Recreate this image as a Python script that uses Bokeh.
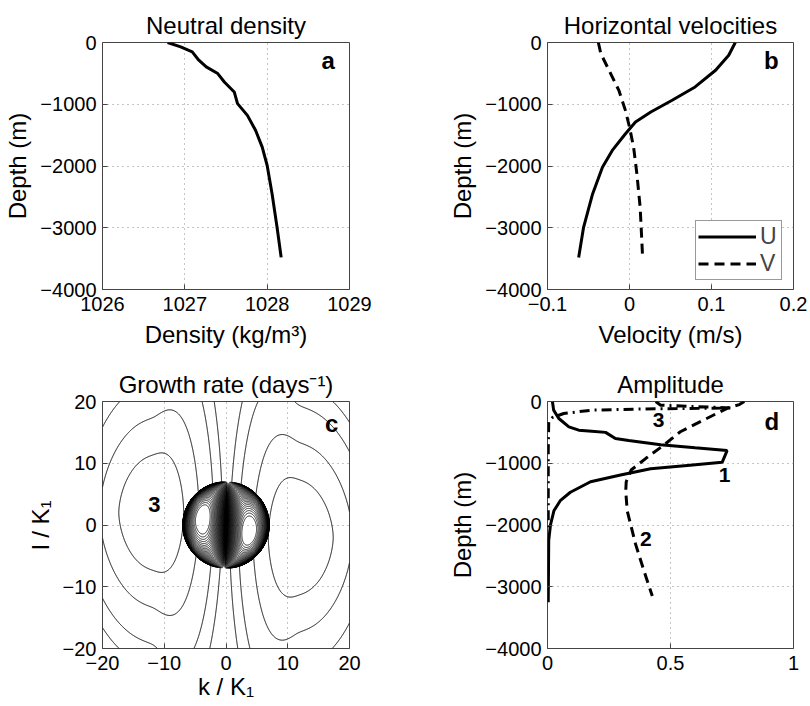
import numpy as np
import contourpy
from bokeh.plotting import figure
from bokeh.layouts import column, row
from bokeh.models import FixedTicker, Legend, LegendItem, Label
from bokeh.embed import file_html
from bokeh.resources import INLINE

FONT = "Liberation Sans"

# ---------------- data ----------------
# (a) neutral density profile
density = [1026.79, 1026.95, 1027.09, 1027.17, 1027.26, 1027.40, 1027.48, 1027.60,
           1027.64, 1027.76, 1027.86, 1027.94, 1028.00, 1028.06, 1028.12, 1028.17]
density_depth = [0, -70, -152, -287, -395, -503, -639, -801, -990, -1180, -1424,
                 -1694, -1992, -2452, -2993, -3480]

# (b) horizontal velocities
u_vel = [0.129, 0.121, 0.105, 0.080, 0.052, 0.026, 0.0073, -0.0049, -0.021, -0.033,
         -0.045, -0.056, -0.062]
u_depth = [0, -206, -449, -720, -936, -1126, -1288, -1478, -1748, -2019, -2452, -2993, -3480]
v_vel = [-0.038, -0.035, -0.025, -0.013, -0.005, 0.0, 0.005, 0.009, 0.013, 0.016]
v_depth = [0, -179, -449, -774, -1099, -1370, -1694, -2127, -2668, -3480]

# (c) growth-rate map parameters
k_limits = [-20, 20]
l_limits = [-20, 20]
disc_radius = 7.0          # radius of the densely contoured disc
gap_tilt = 0.045           # k-offset of the gap between the two halves per unit l
peak_shift = 0.02          # vertical shift of the two inner maxima
inner_rim_power = 0.4
inner_gap_power = 0.8
inner_gap_damping = 0.86
inner_levels = list(np.linspace(0.04, 0.93, 32))
# outer lobe (left one; the right one is its point reflection):
# [k centre, l centre, k scale outward, k scale inward, l scale, l exponent, widening]
outer_lobe = [-11.5, 2.0, 5.8, 4.6, 9.0, 1.72, 0.35]
outer_levels = [0.06, 0.12, 0.3, 0.6]

# (d) mode amplitudes
mode1_amp = [0.02, 0.025, 0.046, 0.087, 0.127, 0.18, 0.236, 0.276, 0.33, 0.46, 0.60, 0.73,
             0.71, 0.568, 0.419, 0.297, 0.175, 0.093, 0.053, 0.026, 0.012, 0.005, 0.003]
mode1_depth = [0, -140, -275, -410, -464, -480, -500, -600, -630, -700, -750, -795,
               -985, -1036, -1090, -1190, -1300, -1470, -1600, -1770, -2000, -2250, -3250]
mode2_amp = [0.80, 0.78, 0.73, 0.64, 0.54, 0.47, 0.40, 0.34, 0.32, 0.318, 0.324, 0.358, 0.392, 0.426]
mode2_depth = [0, -50, -110, -290, -490, -715, -920, -1110, -1300, -1450, -1770, -2310, -2740, -3150]
mode3_amp = [0.44, 0.46, 0.75, 0.40, 0.18, 0.066, 0.02, 0.005, 0.003, 0.003]
mode3_depth = [0, -60, -105, -120, -140, -194, -260, -330, -800, -2100]

depth_ticks = [-4000, -3000, -2000, -1000, 0]


def fmt(t):
    s = f"{t:g}"
    return s.replace("-", "\u2212")


def make_fig(title, xr, yr, xt, yt, xlabel, ylabel, w, h, bl, br, bt, bb, xlab_standoff=7):
    p = figure(width=w, height=h, x_range=xr, y_range=yr, output_backend="svg",
               toolbar_location=None, min_border_left=bl, min_border_right=br,
               min_border_top=bt, min_border_bottom=bb)
    p.title.text = title
    p.title.align = "center"
    p.title.text_font = FONT
    p.title.text_font_size = "24px"
    p.title.text_font_style = "normal"
    p.title.text_color = "black"
    p.title.standoff = 8
    p.xaxis.ticker = FixedTicker(ticks=xt)
    p.yaxis.ticker = FixedTicker(ticks=yt)
    p.xaxis.major_label_overrides = {t: fmt(t) for t in xt}
    p.yaxis.major_label_overrides = {t: fmt(t) for t in yt}
    p.xaxis.axis_label = xlabel
    p.yaxis.axis_label = ylabel
    for ax in (p.xaxis[0], p.yaxis[0]):
        ax.major_tick_in = 5
        ax.major_tick_out = 0
        ax.minor_tick_line_color = None
        ax.axis_line_color = None
        ax.major_tick_line_color = "#444444"
        ax.major_label_text_font = FONT
        ax.major_label_text_font_size = "20px"
        ax.major_label_text_color = "black"
        ax.axis_label_text_font = FONT
        ax.axis_label_text_font_size = "24px"
        ax.axis_label_text_font_style = "normal"
        ax.axis_label_text_color = "black"
    p.xaxis.major_label_standoff = 7
    p.yaxis.major_label_standoff = 6
    p.xaxis.axis_label_standoff = xlab_standoff
    p.yaxis.axis_label_standoff = 6
    for g in (p.xgrid[0], p.ygrid[0]):
        g.grid_line_color = "#8a8a8a"
        g.grid_line_dash = "1 4"
        g.grid_line_width = 1
    p.outline_line_color = "#444444"
    p.outline_line_width = 1
    p.background_fill_color = "white"
    p.border_fill_color = "white"
    return p


def panel_letter(p, x, y, t, size="24px"):
    p.add_layout(Label(x=x, y=y, text=t, text_font=FONT, text_font_size=size,
                       text_font_style="bold", text_align="center",
                       text_baseline="middle", text_color="black"))


# ---------------- (a) ----------------
pa = make_fig("Neutral density", (1026, 1029), (-4000, 0), [1026, 1027, 1028, 1029],
              depth_ticks, "Density (kg/m\u00b3)", "Depth (m)", 405, 356, 102, 56, 42, 67)
pa.line(density, density_depth, line_color="black", line_width=3)
panel_letter(pa, 1028.74, -290, "a")

# ---------------- (b) ----------------
pb = make_fig("Horizontal velocities", (-0.1, 0.2), (-4000, 0), [-0.1, 0, 0.1, 0.2],
              depth_ticks, "Velocity (m/s)", "Depth (m)", 405, 356, 142, 17, 42, 67)
ru = pb.line(u_vel, u_depth, line_color="black", line_width=3)
rv = pb.line(v_vel, v_depth, line_color="black", line_width=3, line_dash="10 6")
panel_letter(pb, 0.173, -290, "b")
leg = Legend(items=[LegendItem(label="U", renderers=[ru]), LegendItem(label="V", renderers=[rv])],
             location=(148, 9), orientation="vertical")
leg.label_text_font = FONT
leg.label_text_font_size = "23px"
leg.glyph_width = 58
leg.glyph_height = 27
leg.label_height = 27
leg.label_width = 19
leg.label_standoff = 4
leg.padding = 2
leg.spacing = 0
leg.margin = 0
leg.border_line_color = "#333333"
leg.border_line_width = 1
leg.background_fill_alpha = 1.0
pb.add_layout(leg)

# ---------------- (c) ----------------
pc = make_fig("Growth rate (days\u207b\u00b9)", tuple(k_limits), tuple(l_limits),
              [-20, -10, 0, 10, 20], [-20, -10, 0, 10, 20], "k / K\u2081", "l / K\u2081",
              405, 350, 102, 56, 45, 58, xlab_standoff=0)

ko = np.linspace(k_limits[0], k_limits[1], 401)
lo = np.linspace(l_limits[0], l_limits[1], 401)
KO, LO = np.meshgrid(ko, lo)


def lobe(K, L, spec):
    kc, lc, sk_out, sk_in, sl, q, g = spec
    dk, dl = K - kc, L - lc
    sk = np.where(dk < 0, sk_out, sk_in)
    inward = 0.5 * (dk + np.sqrt(dk ** 2 + 1.0))
    sl_eff = sl * (1 + g * inward / sk_in)
    return np.exp(-0.5 * ((dk / sk) ** 2 + np.abs(dl / sl_eff) ** q))


z_out = np.maximum(lobe(KO, LO, outer_lobe), lobe(-KO, -LO, outer_lobe))
z_out = np.ma.masked_where(np.hypot(KO, LO) < disc_radius, z_out)
gen_o = contourpy.contour_generator(ko, lo, z_out, line_type="Separate")
oxs, oys = [], []
for lev in outer_levels:
    for seg in gen_o.lines(lev):
        oxs.append(list(seg[:, 0]))
        oys.append(list(seg[:, 1]))
pc.multi_line(oxs, oys, line_color="#111111", line_width=1)

# inner disc field
ki = np.linspace(-disc_radius - 0.1, disc_radius + 0.1, 701)
KI, LI = np.meshgrid(ki, ki)
rr = np.hypot(KI, LI)
uu = np.clip(1 - (rr / disc_radius) ** 2, 0, None)
nn = KI - gap_tilt * LI
vv = np.abs(nn) / disc_radius
ww = np.exp(-np.sign(nn) * peak_shift * LI)
f_in = uu ** inner_rim_power * vv ** inner_gap_power * np.exp(-inner_gap_damping * vv) * ww
f_in = f_in / f_in.max()
gen_i = contourpy.contour_generator(ki, ki, f_in, line_type="Separate")
ixs, iys = [], []
for lev in inner_levels:
    for seg in gen_i.lines(lev):
        ixs.append(list(seg[:, 0]))
        iys.append(list(seg[:, 1]))
pc.multi_line(ixs, iys, line_color="black", line_width=0.85)

panel_letter(pc, 17.1, 16.5, "c")
panel_letter(pc, -11.6, 3.3, "3", size="22px")

# ---------------- (d) ----------------
pd = make_fig("Amplitude", (0, 1), (-4000, 0), [0, 0.5, 1], depth_ticks, "", "Depth (m)",
              405, 350, 142, 17, 45, 58, xlab_standoff=0)
pd.line(mode1_amp, mode1_depth, line_color="black", line_width=3)
pd.line(mode2_amp, mode2_depth, line_color="black", line_width=3, line_dash="10 6")
pd.line(mode3_amp, mode3_depth, line_color="black", line_width=3, line_dash="10 5 2 5")
panel_letter(pd, 0.912, -330, "d")
for (x, y, t) in [(0.72, -1190, "1"), (0.40, -2230, "2"), (0.452, -300, "3")]:
    pd.add_layout(Label(x=x, y=y, text=t, text_font=FONT, text_font_size="21px",
                        text_font_style="bold", text_align="center",
                        text_baseline="middle", text_color="black"))

layout = column(row(pa, pb), row(pc, pd))
open("out.html", "w").write(file_html(layout, INLINE))
